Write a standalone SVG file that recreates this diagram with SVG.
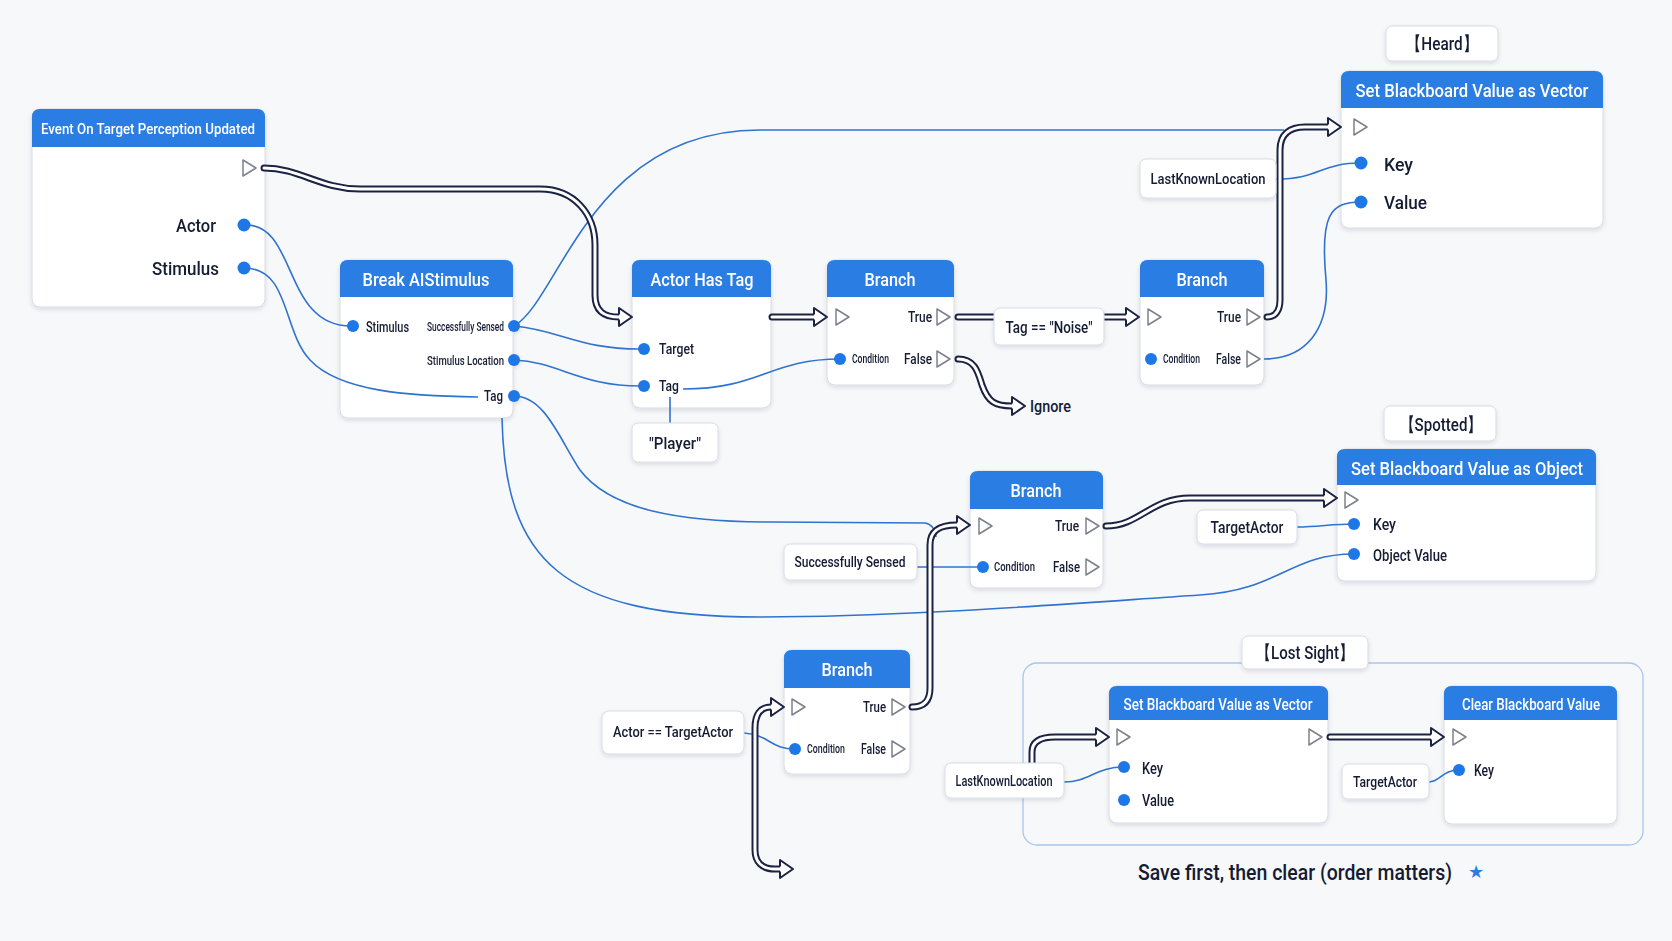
<svg xmlns="http://www.w3.org/2000/svg" width="1672" height="941" viewBox="0 0 1672 941">
<style>
text{font-family:Roboto,"Liberation Sans",sans-serif;font-weight:500;fill:#141b33;dominant-baseline:central}
.hdr{fill:#2b7de3}
.body{fill:#fff;stroke:#d6dbe3;stroke-width:1}
.box{fill:#fff;stroke:#d6dbe3;stroke-width:1}
.title{fill:#fff;text-anchor:middle}
.pin{fill:#1f77e8}
.tri{fill:#fff;stroke:#7c818c;stroke-width:1.5;stroke-linejoin:round}
.wire{fill:none;stroke:#2f73cf;stroke-width:1.6}
.exo{fill:none;stroke:#1b2242;stroke-width:7;stroke-linecap:round;stroke-linejoin:round}
.exi{fill:none;stroke:#fff;stroke-width:3;stroke-linecap:round;stroke-linejoin:round}
.ah{fill:#fff;stroke:#1b2242;stroke-width:2;stroke-linejoin:round}
.grp{fill:none;stroke:#a8c6ec;stroke-width:1.3}
.end{text-anchor:end}
.mid{text-anchor:middle}
.star{fill:#2b7de3;font-family:"DejaVu Sans",sans-serif}
</style>
<defs>
<filter id="sh" x="-10%" y="-10%" width="120%" height="130%"><feDropShadow dx="0" dy="2" stdDeviation="2" flood-color="#1b2242" flood-opacity="0.12"/></filter>
<path id="ah" d="M-13,-2.5 L-13,-9 L0,0 L-13,9 L-13,2.5"/>
<path id="tri" d="M-6,-8 L7,0 L-6,8 Z"/>
</defs>
<rect width="1672" height="941" fill="#f7f8fa"/>

<!-- Lost Sight container -->
<g id="lost-sight-group">
<rect class="grp" x="1023" y="663" width="620" height="182" rx="14"/>
</g>

<!-- Event node -->
<g id="event-node" filter="url(#sh)">
<rect class="body" x="32" y="109" width="233" height="198" rx="8"/>
<path class="hdr" d="M32,147 V117 Q32,109 40,109 H257 Q265,109 265,117 V147 Z"/>
<text class="title" x="148" y="129" font-size="15" textLength="214" lengthAdjust="spacingAndGlyphs">Event On Target Perception Updated</text>
<use href="#tri" class="tri" x="249" y="168"/>
<text class="end" x="216" y="225" font-size="19" textLength="40" lengthAdjust="spacingAndGlyphs">Actor</text>
<circle class="pin" cx="244" cy="225" r="6.5"/>
<text class="end" x="219" y="268" font-size="19" textLength="67" lengthAdjust="spacingAndGlyphs">Stimulus</text>
<circle class="pin" cx="244" cy="268" r="6.5"/>
</g>

<!-- Break AIStimulus -->
<g id="break-aistimulus" filter="url(#sh)">
<rect class="body" x="340" y="260" width="173" height="158" rx="8"/>
<path class="hdr" d="M340,297 V268 Q340,260 348,260 H505 Q513,260 513,268 V297 Z"/>
<text class="title" x="426" y="279" font-size="19" textLength="127" lengthAdjust="spacingAndGlyphs">Break AIStimulus</text>
<circle class="pin" cx="353" cy="326" r="6"/>
<text x="366" y="327" font-size="14" textLength="43" lengthAdjust="spacingAndGlyphs">Stimulus</text>
<text class="end" x="504" y="327" font-size="12" textLength="77" lengthAdjust="spacingAndGlyphs">Successfully Sensed</text>
<circle class="pin" cx="514" cy="326" r="6"/>
<text class="end" x="504" y="361" font-size="12" textLength="77" lengthAdjust="spacingAndGlyphs">Stimulus Location</text>
<circle class="pin" cx="514" cy="360" r="6"/>
<text class="end" x="503" y="396" font-size="14" textLength="19" lengthAdjust="spacingAndGlyphs">Tag</text>
<circle class="pin" cx="514" cy="396" r="6"/>
</g>

<!-- Actor Has Tag -->
<g id="actor-has-tag" filter="url(#sh)">
<rect class="body" x="632" y="260" width="139" height="148" rx="8"/>
<path class="hdr" d="M632,297 V268 Q632,260 640,260 H763 Q771,260 771,268 V297 Z"/>
<text class="title" x="702" y="279" font-size="19" textLength="103" lengthAdjust="spacingAndGlyphs">Actor Has Tag</text>
<circle class="pin" cx="644" cy="349" r="6"/>
<text x="659" y="349" font-size="15" textLength="35" lengthAdjust="spacingAndGlyphs">Target</text>
<circle class="pin" cx="644" cy="386" r="6"/>
<text x="659" y="386" font-size="15" textLength="20" lengthAdjust="spacingAndGlyphs">Tag</text>
</g>

<!-- Branch 1 -->
<g id="branch-1" filter="url(#sh)">
<rect class="body" x="827" y="260" width="127" height="125" rx="8"/>
<path class="hdr" d="M827,297 V268 Q827,260 835,260 H946 Q954,260 954,268 V297 Z"/>
<text class="title" x="890" y="279" font-size="19" textLength="51" lengthAdjust="spacingAndGlyphs">Branch</text>
<use href="#tri" class="tri" x="842" y="317"/>
<text class="end" x="932" y="317" font-size="15" textLength="24" lengthAdjust="spacingAndGlyphs">True</text>
<use href="#tri" class="tri" x="943" y="317"/>
<circle class="pin" cx="840" cy="359" r="6"/>
<text x="852" y="359" font-size="12" textLength="37" lengthAdjust="spacingAndGlyphs">Condition</text>
<text class="end" x="932" y="359" font-size="15" textLength="28" lengthAdjust="spacingAndGlyphs">False</text>
<use href="#tri" class="tri" x="943" y="359"/>
</g>

<!-- Branch 2 -->
<g id="branch-2" filter="url(#sh)">
<rect class="body" x="1140" y="260" width="124" height="125" rx="8"/>
<path class="hdr" d="M1140,297 V268 Q1140,260 1148,260 H1256 Q1264,260 1264,268 V297 Z"/>
<text class="title" x="1202" y="279" font-size="19" textLength="51" lengthAdjust="spacingAndGlyphs">Branch</text>
<use href="#tri" class="tri" x="1154" y="317"/>
<text class="end" x="1241" y="317" font-size="15" textLength="24" lengthAdjust="spacingAndGlyphs">True</text>
<use href="#tri" class="tri" x="1253" y="317"/>
<circle class="pin" cx="1151" cy="359" r="6"/>
<text x="1163" y="359" font-size="12" textLength="37" lengthAdjust="spacingAndGlyphs">Condition</text>
<text class="end" x="1241" y="359" font-size="15" textLength="25" lengthAdjust="spacingAndGlyphs">False</text>
<use href="#tri" class="tri" x="1253" y="359"/>
</g>

<!-- Set BB Vector (Heard) -->
<g id="set-bb-vector-heard" filter="url(#sh)">
<rect class="body" x="1341" y="71" width="262" height="157" rx="8"/>
<path class="hdr" d="M1341,108 V79 Q1341,71 1349,71 H1595 Q1603,71 1603,79 V108 Z"/>
<text class="title" x="1472" y="90" font-size="19" textLength="233" lengthAdjust="spacingAndGlyphs">Set Blackboard Value as Vector</text>
<use href="#tri" class="tri" x="1360" y="127"/>
<circle class="pin" cx="1361" cy="163" r="6.5"/>
<text x="1384" y="164" font-size="19" textLength="29" lengthAdjust="spacingAndGlyphs">Key</text>
<circle class="pin" cx="1361" cy="202" r="6.5"/>
<text x="1384" y="202" font-size="19" textLength="43" lengthAdjust="spacingAndGlyphs">Value</text>
</g>

<!-- Set BB Object -->
<g id="set-bb-object" filter="url(#sh)">
<rect class="body" x="1337" y="449" width="259" height="132" rx="8"/>
<path class="hdr" d="M1337,485 V457 Q1337,449 1345,449 H1588 Q1596,449 1596,457 V485 Z"/>
<text class="title" x="1467" y="468" font-size="19" textLength="232" lengthAdjust="spacingAndGlyphs">Set Blackboard Value as Object</text>
<use href="#tri" class="tri" x="1351" y="500"/>
<circle class="pin" cx="1354" cy="524" r="6"/>
<text x="1373" y="524" font-size="16" textLength="23" lengthAdjust="spacingAndGlyphs">Key</text>
<circle class="pin" cx="1354" cy="554" r="6"/>
<text x="1373" y="555" font-size="16" textLength="74" lengthAdjust="spacingAndGlyphs">Object Value</text>
</g>

<!-- Branch 3 -->
<g id="branch-3" filter="url(#sh)">
<rect class="body" x="970" y="471" width="133" height="117" rx="8"/>
<path class="hdr" d="M970,509 V479 Q970,471 978,471 H1095 Q1103,471 1103,479 V509 Z"/>
<text class="title" x="1036" y="490" font-size="19" textLength="51" lengthAdjust="spacingAndGlyphs">Branch</text>
<use href="#tri" class="tri" x="985" y="526"/>
<text class="end" x="1079" y="526" font-size="15" textLength="24" lengthAdjust="spacingAndGlyphs">True</text>
<use href="#tri" class="tri" x="1092" y="526"/>
<circle class="pin" cx="983" cy="567" r="6"/>
<text x="994" y="567" font-size="12" textLength="41" lengthAdjust="spacingAndGlyphs">Condition</text>
<text class="end" x="1080" y="567" font-size="15" textLength="27" lengthAdjust="spacingAndGlyphs">False</text>
<use href="#tri" class="tri" x="1092" y="567"/>
</g>

<!-- Branch 4 -->
<g id="branch-4" filter="url(#sh)">
<rect class="body" x="784" y="650" width="126" height="124" rx="8"/>
<path class="hdr" d="M784,688 V658 Q784,650 792,650 H902 Q910,650 910,658 V688 Z"/>
<text class="title" x="847" y="669" font-size="19" textLength="51" lengthAdjust="spacingAndGlyphs">Branch</text>
<use href="#tri" class="tri" x="798" y="707"/>
<text class="end" x="886" y="707" font-size="15" textLength="23" lengthAdjust="spacingAndGlyphs">True</text>
<use href="#tri" class="tri" x="898" y="707"/>
<circle class="pin" cx="795" cy="749" r="6"/>
<text x="807" y="749" font-size="12" textLength="38" lengthAdjust="spacingAndGlyphs">Condition</text>
<text class="end" x="886" y="749" font-size="15" textLength="25" lengthAdjust="spacingAndGlyphs">False</text>
<use href="#tri" class="tri" x="898" y="749"/>
</g>

<!-- Set BB Vector (Lost Sight) -->
<g id="set-bb-vector-lost" filter="url(#sh)">
<rect class="body" x="1109" y="686" width="219" height="137" rx="8"/>
<path class="hdr" d="M1109,720 V694 Q1109,686 1117,686 H1320 Q1328,686 1328,694 V720 Z"/>
<text class="title" x="1218" y="704" font-size="16" textLength="189" lengthAdjust="spacingAndGlyphs">Set Blackboard Value as Vector</text>
<use href="#tri" class="tri" x="1123" y="737"/>
<use href="#tri" class="tri" x="1315" y="737"/>
<circle class="pin" cx="1124" cy="767" r="6"/>
<text x="1142" y="768" font-size="16" textLength="21" lengthAdjust="spacingAndGlyphs">Key</text>
<circle class="pin" cx="1124" cy="800" r="6"/>
<text x="1142" y="800" font-size="16" textLength="32" lengthAdjust="spacingAndGlyphs">Value</text>
</g>

<!-- Clear BB Value -->
<g id="clear-bb-value" filter="url(#sh)">
<rect class="body" x="1444" y="686" width="173" height="138" rx="8"/>
<path class="hdr" d="M1444,720 V694 Q1444,686 1452,686 H1609 Q1617,686 1617,694 V720 Z"/>
<text class="title" x="1531" y="704" font-size="16" textLength="138" lengthAdjust="spacingAndGlyphs">Clear Blackboard Value</text>
<use href="#tri" class="tri" x="1459" y="737"/>
<circle class="pin" cx="1459" cy="770" r="6"/>
<text x="1474" y="770" font-size="16" textLength="20" lengthAdjust="spacingAndGlyphs">Key</text>
</g>

<!-- connectors -->
<g id="connectors">
<g id="data-wires">
<path class="wire" d="M244,225 C298,222 282,328 353,326"/>
<path class="wire" d="M244,268 C290,268 282,330 310,360 C340,392 410,396 478,397"/>
<path class="wire" d="M514,326 C560,330 580,350 644,349"/>
<path class="wire" d="M514,360 C560,362 580,387 644,386"/>
<path class="wire" d="M683,389 C760,389 770,359 840,359"/>
<path class="wire" d="M670,397 L670,423"/>
<path class="wire" d="M514,326 C560,300 590,130 760,130 L1284,130"/>
<path class="wire" d="M514,396 C545,396 560,440 580,470 C610,510 680,522 770,522 L925,523 C932,524 935,530 936,537"/>
<path class="wire" d="M502,418 C505,560 560,617 760,617 C900,617 1050,605 1200,595 C1280,590 1290,554 1354,554"/>
<path class="wire" d="M1276,179 C1320,179 1320,163 1361,163"/>
<path class="wire" d="M1264,359 C1305,359 1330,330 1326,280 C1320,215 1330,202 1361,202"/>
<path class="wire" d="M1297,527 C1320,527 1330,524 1354,524"/>
<path class="wire" d="M917,567 L983,567"/>
<path class="wire" d="M744,733 C770,735 770,749 795,749"/>
<path class="wire" d="M1064,782 C1090,782 1095,767 1124,767"/>
<path class="wire" d="M1429,782 C1440,782 1442,770 1459,770"/>
</g>
<g id="exec-wires">
<path class="exo" d="M264,168 C300,168 320,189 360,189 L540,189 C575,189 595,215 595,245 L595,295 C595,312 605,317 619,317"/>
<path class="exi" d="M264,168 C300,168 320,189 360,189 L540,189 C575,189 595,215 595,245 L595,295 C595,312 605,317 619,317"/>
<use href="#ah" class="ah" x="632" y="317"/>
<path class="exo" d="M772,317 L814,317"/>
<path class="exi" d="M772,317 L814,317"/>
<use href="#ah" class="ah" x="827" y="317"/>
<path class="exo" d="M958,317 L1126,317"/>
<path class="exi" d="M958,317 L1126,317"/>
<use href="#ah" class="ah" x="1139" y="317"/>
<path class="exo" d="M958,359 C975,359 978,372 982,385 C988,402 995,406 1012,406"/>
<path class="exi" d="M958,359 C975,359 978,372 982,385 C988,402 995,406 1012,406"/>
<use href="#ah" class="ah" x="1025" y="406"/>
<path class="exo" d="M1267,317 C1276,317 1280,310 1280,300 L1280,150 C1280,134 1290,127 1305,127 L1328,127"/>
<path class="exi" d="M1267,317 C1276,317 1280,310 1280,300 L1280,150 C1280,134 1290,127 1305,127 L1328,127"/>
<use href="#ah" class="ah" x="1341" y="127"/>
<path class="exo" d="M1106,526 C1140,526 1150,498 1190,498 L1324,498"/>
<path class="exi" d="M1106,526 C1140,526 1150,498 1190,498 L1324,498"/>
<use href="#ah" class="ah" x="1337" y="498"/>
<path class="exo" d="M912,707 C925,707 930,700 930,688 L930,545 C930,530 940,525 957,525"/>
<path class="exi" d="M912,707 C925,707 930,700 930,688 L930,545 C930,530 940,525 957,525"/>
<use href="#ah" class="ah" x="970" y="525"/>
<path class="exo" d="M771,707 C760,707 755,715 755,728 L755,850 C755,862 762,869 775,869 L780,869"/>
<path class="exi" d="M771,707 C760,707 755,715 755,728 L755,850 C755,862 762,869 775,869 L780,869"/>
<use href="#ah" class="ah" x="784" y="707"/>
<use href="#ah" class="ah" x="793" y="869"/>
<path class="exo" d="M1032,765 L1032,752 C1032,742 1040,737 1055,737 L1096,737"/>
<path class="exi" d="M1032,765 L1032,752 C1032,742 1040,737 1055,737 L1096,737"/>
<use href="#ah" class="ah" x="1109" y="737"/>
<path class="exo" d="M1330,737 L1431,737"/>
<path class="exi" d="M1330,737 L1431,737"/>
<use href="#ah" class="ah" x="1444" y="737"/>
</g>
</g>

<!-- literal / label boxes -->
<g id="player-literal" filter="url(#sh)">
<rect class="box" x="632" y="423" width="86" height="39" rx="6"/>
<text class="mid" x="675" y="443" font-size="17" textLength="52" lengthAdjust="spacingAndGlyphs">"Player"</text>
</g>
<g id="tag-noise" filter="url(#sh)">
<rect class="box" x="994" y="308" width="110" height="37" rx="6"/>
<text class="mid" x="1049" y="327" font-size="16" textLength="87" lengthAdjust="spacingAndGlyphs">Tag == "Noise"</text>
</g>
<g id="ignore">
<text x="1030" y="406" font-size="17" textLength="41" lengthAdjust="spacingAndGlyphs">Ignore</text>
</g>
<g id="heard-label" filter="url(#sh)">
<rect class="box" x="1386" y="26" width="112" height="35" rx="6"/>
<text class="mid" x="1442" y="43" font-size="19" font-family="Roboto,'Noto Sans CJK SC',sans-serif" textLength="72" lengthAdjust="spacingAndGlyphs">【Heard】</text>
</g>
<g id="lkl-heard" filter="url(#sh)">
<rect class="box" x="1140" y="159" width="136" height="39" rx="6"/>
<text class="mid" x="1208" y="179" font-size="15" textLength="115" lengthAdjust="spacingAndGlyphs">LastKnownLocation</text>
</g>
<g id="spotted-label" filter="url(#sh)">
<rect class="box" x="1384" y="406" width="112" height="35" rx="6"/>
<text class="mid" x="1441" y="424" font-size="19" font-family="Roboto,'Noto Sans CJK SC',sans-serif" textLength="83" lengthAdjust="spacingAndGlyphs">【Spotted】</text>
</g>
<g id="targetactor-spotted" filter="url(#sh)">
<rect class="box" x="1197" y="510" width="100" height="34" rx="6"/>
<text class="mid" x="1247" y="527" font-size="16" textLength="73" lengthAdjust="spacingAndGlyphs">TargetActor</text>
</g>
<g id="successfully-sensed" filter="url(#sh)">
<rect class="box" x="784" y="544" width="133" height="36" rx="6"/>
<text class="mid" x="850" y="562" font-size="15" textLength="111" lengthAdjust="spacingAndGlyphs">Successfully Sensed</text>
</g>
<g id="actor-eq-targetactor" filter="url(#sh)">
<rect class="box" x="602" y="711" width="142" height="43" rx="7"/>
<text class="mid" x="673" y="732" font-size="15" textLength="120" lengthAdjust="spacingAndGlyphs">Actor == TargetActor</text>
</g>
<g id="lost-sight-label" filter="url(#sh)">
<rect class="box" x="1242" y="636" width="126" height="33" rx="6"/>
<text class="mid" x="1305" y="652" font-size="19" font-family="Roboto,'Noto Sans CJK SC',sans-serif" textLength="98" lengthAdjust="spacingAndGlyphs">【Lost Sight】</text>
</g>
<g id="lkl-lost" filter="url(#sh)">
<rect class="box" x="945" y="763" width="119" height="35" rx="6"/>
<text class="mid" x="1004" y="781" font-size="14" textLength="97" lengthAdjust="spacingAndGlyphs">LastKnownLocation</text>
</g>
<g id="targetactor-lost" filter="url(#sh)">
<rect class="box" x="1342" y="764" width="87" height="35" rx="6"/>
<text class="mid" x="1385" y="782" font-size="15" textLength="64" lengthAdjust="spacingAndGlyphs">TargetActor</text>
</g>

<g id="footer">
<text class="end" x="1452" y="872" font-size="22" textLength="314" lengthAdjust="spacingAndGlyphs">Save first, then clear (order matters)</text>
<text class="star" x="1468" y="871" font-size="18">★</text>
</g>
</svg>
